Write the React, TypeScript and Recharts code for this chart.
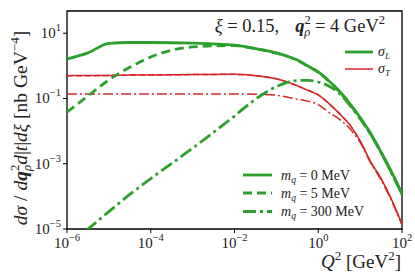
import { LineChart, Line, XAxis, YAxis, ReferenceArea } from 'recharts'

// Q^2 grid in GeV^2 (shared by all curves)
const q2 = [1e-6, 3.16e-6, 1e-5, 3.16e-5, 1e-4, 1e-3, 1e-2, 0.0316, 0.1, 0.316, 0.562, 1, 1.78, 3.16, 5.62, 10, 17.8, 31.6, 56.2, 100]

// sigma_L, green
const sigmaL_m0 = [1.62, 2.5, 4.9, 5.2, 5.2, 5.0, 4.3, 3.4, 2.5, 1.5, 0.99, 0.65, 0.35, 0.17, 0.071, 0.026, 0.0085, 0.0023, 5.6e-4, 1.2e-4]
const sigmaL_m5 = [0.038, 0.12, 0.37, 0.9, 1.86, 3.8, 4.2, 3.3, 2.45, 1.48, 0.97, 0.63, 0.345, 0.166, 0.069, 0.0257, 0.0083, 0.0022, 5.4e-4, 1.17e-4]
const sigmaL_m300 = [3.2e-6, 1.0e-5, 3.4e-5, 1.15e-4, 3.5e-4, 3.0e-3, 0.029, 0.095, 0.23, 0.355, 0.36, 0.32, 0.24, 0.145, 0.063, 0.024, 0.0079, 0.0022, 5.2e-4, 1.17e-4]

// sigma_T, red
const sigmaT_m0 = [0.51, 0.51, 0.51, 0.52, 0.525, 0.54, 0.55, 0.5, 0.4, 0.245, 0.178, 0.13, 0.071, 0.035, 0.0158, 0.005, 1.15e-3, 3.5e-4, 8e-5, 1.4e-5]
const sigmaT_m5 = [0.5, 0.5, 0.51, 0.52, 0.525, 0.54, 0.55, 0.5, 0.4, 0.245, 0.178, 0.13, 0.071, 0.035, 0.0158, 0.005, 1.15e-3, 3.5e-4, 8e-5, 1.4e-5]
const sigmaT_m300 = [0.138, 0.138, 0.138, 0.138, 0.138, 0.138, 0.138, 0.135, 0.126, 0.095, 0.083, 0.065, 0.038, 0.0234, 0.012, 0.0045, 1.07e-3, 3.2e-4, 7.4e-5, 1.32e-5]

const xTicks = [1e-6, 1e-4, 1e-2, 1, 100]
const yTicks = [1e-5, 1e-3, 1e-1, 10]

const GREEN = '#2ca02c'
const RED = '#d62728'
const FONT = '"Liberation Serif", "DejaVu Serif", serif'

const toRows = (vals: number[]) => q2.map((q, i) => ({ q2: q, v: vals[i] }))

function expOf(v: number) {
  const e = Math.round(Math.log10(v))
  return e < 0 ? '\u2212' + Math.abs(e) : String(e)
}

function XTick(props: any) {
  const { x, y, payload } = props
  return (
    <text x={x} y={y + 13} textAnchor="middle" fontFamily={FONT} fontSize={15} fill="#222">
      10<tspan dy={-7} fontSize={10.5}>{expOf(payload.value)}</tspan>
    </text>
  )
}

function YTick(props: any) {
  const { x, y, payload } = props
  return (
    <text x={x} y={y + 5} textAnchor="end" fontFamily={FONT} fontSize={15} fill="#222">
      10<tspan dy={-7} fontSize={10.5}>{expOf(payload.value)}</tspan>
    </text>
  )
}

export default function App() {
  return (
    <div style={{ position: 'relative', width: 415, height: 277, background: '#fff' }}>
      <style>{'body{margin:0}'}</style>
      <LineChart width={415} height={277} margin={{ top: 11, right: 13, bottom: 0, left: 0 }}>
        <XAxis
          type="number"
          dataKey="q2"
          scale="log"
          domain={[1e-6, 100]}
          ticks={xTicks}
          interval={0}
          allowDataOverflow
          height={48}
          axisLine={false}
          tickLine={{ stroke: '#000', strokeWidth: 1 }}
          tickSize={4}
          tick={<XTick />}
        />
        <YAxis
          type="number"
          scale="log"
          domain={[1e-5, 48]}
          ticks={yTicks}
          interval={0}
          allowDataOverflow
          width={67}
          axisLine={false}
          tickLine={{ stroke: '#000', strokeWidth: 1 }}
          tickSize={4}
          tick={<YTick />}
        />
        <Line data={toRows(sigmaT_m0)} dataKey="v" type="monotone" stroke={RED} strokeWidth={1.5} dot={false} isAnimationActive={false} />
        <Line data={toRows(sigmaT_m5)} dataKey="v" type="monotone" stroke={RED} strokeWidth={1.5} strokeDasharray="6 3" dot={false} isAnimationActive={false} />
        <Line data={toRows(sigmaT_m300)} dataKey="v" type="monotone" stroke={RED} strokeWidth={1.5} strokeDasharray="10 3 2 3" dot={false} isAnimationActive={false} />
        <Line data={toRows(sigmaL_m0)} dataKey="v" type="monotone" stroke={GREEN} strokeWidth={2.8} dot={false} isAnimationActive={false} />
        <Line data={toRows(sigmaL_m5)} dataKey="v" type="monotone" stroke={GREEN} strokeWidth={2.8} strokeDasharray="9 5" dot={false} isAnimationActive={false} />
        <Line data={toRows(sigmaL_m300)} dataKey="v" type="monotone" stroke={GREEN} strokeWidth={2.8} strokeDasharray="13 4 3 4" dot={false} isAnimationActive={false} />
        <ReferenceArea x1={1e-6} x2={100} y1={1e-5} y2={48} fill="none" stroke="#000" strokeWidth={1.3} />
      </LineChart>

      <svg width={415} height={277} style={{ position: 'absolute', left: 0, top: 0, pointerEvents: 'none' }} fontFamily={FONT} fill="#222">
        {/* title */}
        <text x={385} y={32} fontSize={18.5} textAnchor="end">
          <tspan fontStyle="italic">ξ</tspan> = 0.15,
          <tspan dx={16} fontStyle="italic" fontWeight="bold">q</tspan>
          <tspan dy={-8} fontSize={12.5}>2</tspan>
          <tspan dx={-6.5} dy={12} fontSize={12.5} fontStyle="italic">ρ</tspan>
          <tspan dy={-4}> = 4 GeV</tspan>
          <tspan dy={-8} fontSize={12.5}>2</tspan>
        </text>

        {/* sigma legend */}
        <line x1={345} x2={373} y1={52} y2={52} stroke={GREEN} strokeWidth={2.8} />
        <text x={378} y={56} fontSize={14} fontStyle="italic">σ<tspan dy={3} fontSize={9}>L</tspan></text>
        <line x1={345} x2={373} y1={69} y2={69} stroke={RED} strokeWidth={1.5} />
        <text x={378} y={73} fontSize={14} fontStyle="italic">σ<tspan dy={3} fontSize={9}>T</tspan></text>

        {/* quark mass legend */}
        <line x1={243} x2={272} y1={175} y2={175} stroke={GREEN} strokeWidth={2.8} />
        <line x1={243} x2={272} y1={193} y2={193} stroke={GREEN} strokeWidth={2.8} strokeDasharray="9 5" />
        <line x1={243} x2={272} y1={211.5} y2={211.5} stroke={GREEN} strokeWidth={2.8} strokeDasharray="13 4 3 4" />
        {[['0', 175], ['5', 193], ['300', 211.5]].map(([m, y]) => (
          <text key={m as string} x={281} y={(y as number) + 4.5} fontSize={14}>
            <tspan fontStyle="italic">m</tspan>
            <tspan dy={3} fontSize={9.5} fontStyle="italic">q</tspan>
            <tspan dy={-3}> = {m} MeV</tspan>
          </text>
        ))}

        {/* x label */}
        <text x={401} y={268} fontSize={19} textAnchor="end">
          <tspan fontStyle="italic">Q</tspan>
          <tspan dy={-8} fontSize={13}>2</tspan>
          <tspan dy={8}> [GeV</tspan>
          <tspan dy={-8} fontSize={13}>2</tspan>
          <tspan dy={8}>]</tspan>
        </text>

        {/* y label */}
        <text transform="translate(27,128) rotate(-90)" fontSize={19.5} textAnchor="middle">
          <tspan fontStyle="italic">dσ</tspan>
          <tspan> / </tspan>
          <tspan fontStyle="italic">d</tspan>
          <tspan fontStyle="italic" fontWeight="bold">q</tspan>
          <tspan dy={-8} fontSize={13}>2</tspan>
          <tspan dx={-6.5} dy={12} fontSize={13} fontStyle="italic">ρ</tspan>
          <tspan dy={-4} fontStyle="italic">d</tspan>
          <tspan>|</tspan>
          <tspan fontStyle="italic">t</tspan>
          <tspan>|</tspan>
          <tspan fontStyle="italic">dξ</tspan>
          <tspan> [nb GeV</tspan>
          <tspan dy={-8} fontSize={13}>−4</tspan>
          <tspan dy={8}>]</tspan>
        </text>
      </svg>
    </div>
  )
}
